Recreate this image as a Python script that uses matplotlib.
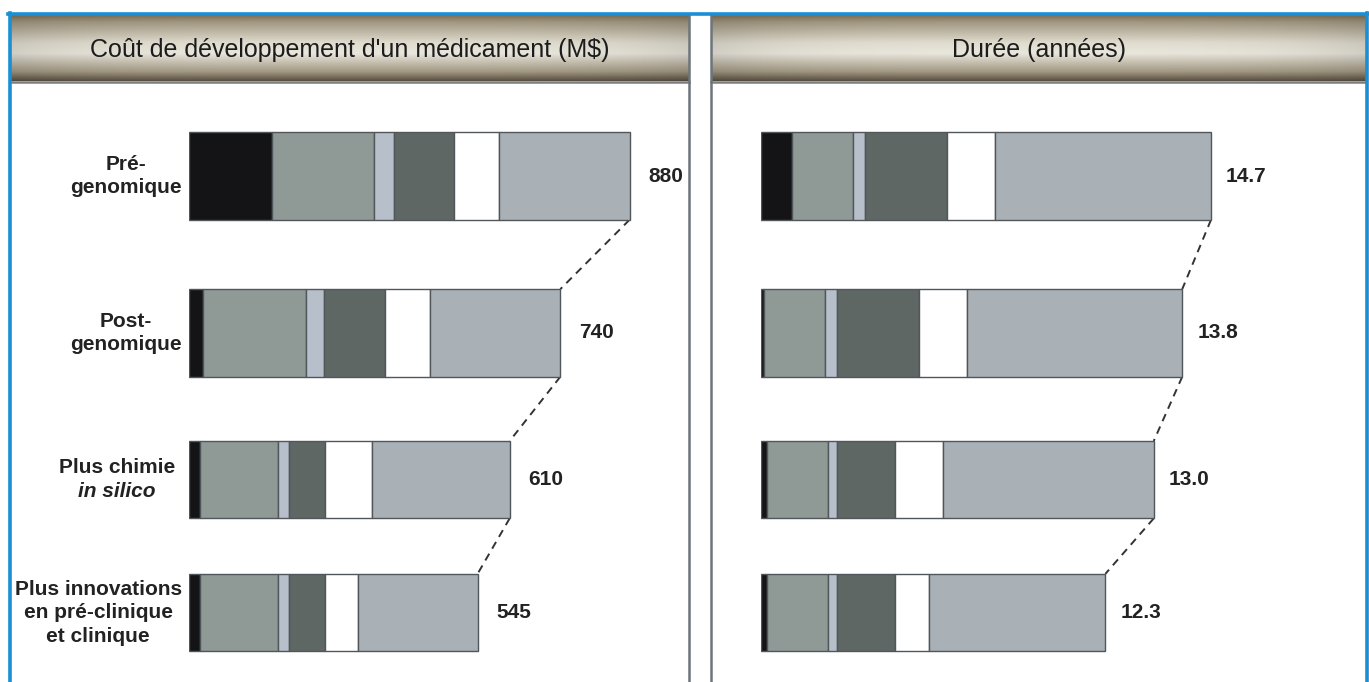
import matplotlib
matplotlib.use('Agg')
import matplotlib.pyplot as plt
import numpy as np
from matplotlib.colors import to_rgb

plt.rcParams['font.family'] = ['Liberation Sans', 'DejaVu Sans']

# --- donnees ---
categories = ['Pré-\ngenomique', 'Post-\ngenomique', 'Plus chimie',
              'Plus innovations\nen pré-clinique\net clinique']
italic_line = {2: 'in silico'}

titles = ["Coût de développement d'un médicament (M$)", 'Durée (années)']

cost_totals = ['880', '740', '610', '545']
years_totals = ['14.7', '13.8', '13.0', '12.3']

# segments par phase (lecture sur l'image)
cost_segments = [
    [165, 205, 39, 120, 90, 260],
    [29, 204, 37, 122, 89, 260],
    [22, 156, 21, 73, 94, 274],
    [22, 156, 21, 73, 66, 238],
]
years_segments = [
    [1.02, 1.99, 0.38, 2.70, 1.57, 7.04],
    [0.10, 2.00, 0.38, 2.69, 1.57, 7.02],
    [0.21, 1.97, 0.31, 1.89, 1.55, 6.90],
    [0.21, 1.97, 0.31, 1.89, 1.10, 5.77],
]

phase_colors = ['#141417', '#8f9996', '#b7bfca', '#5f6764', '#ffffff', '#a9b1b7']

# --- mise en page (pixels de l'image 1369x682) ---
W, H = 1369, 682
row_y = [0.0, 1.075, 2.08, 2.99]
bar_h = [0.60, 0.60, 0.53, 0.53]
blue = '#1a8fd6'
edge = '#50565a'

fig = plt.figure(figsize=(W / 100, H / 100), dpi=100)
fig.patch.set_facecolor('white')

bg = fig.add_axes([0, 0, 1, 1])
bg.set_xlim(0, W)
bg.set_ylim(H, 0)
bg.axis('off')

# bandeaux de titre en degrade
stops = [0, 0.1, 0.42, 0.58, 0.86, 1.0]
cols = np.array([to_rgb(c) for c in ['#7c6f57', '#a19781', '#e0dccf', '#e9e6dc', '#a39984', '#5a5141']])
t = np.linspace(0, 1, 80)
vert = np.stack([np.interp(t, stops, cols[:, k]) for k in range(3)], axis=1)
u = np.linspace(0, 1, 300)
horiz = 1 - 0.10 * (np.abs(u - 0.5) * 2) ** 4
grad = vert[:, None, :] * horiz[None, :, None]

panels = [(11, 689), (711, 1366)]
for (x0, x1), title in zip(panels, titles):
    bg.imshow(grad, extent=[x0, x1, 81, 15], aspect='auto', zorder=1)
    bg.plot([x0, x1], [82, 82], color='#7b7d84', lw=1.8, zorder=2)
    bg.text((x0 + x1) / 2, 50, title, ha='center', va='center',
            fontsize=18, color='#1c1c1c', zorder=3)

# bords
bg.plot([689, 689], [15, H], color='#6d747a', lw=1.8)
bg.plot([711, 711], [15, H], color='#6d747a', lw=1.8)
bg.plot([8, W], [14, 14], color=blue, lw=2.6)
bg.plot([9.5, 9.5], [13, H], color=blue, lw=2.6)
bg.plot([1367, 1367], [13, H], color=blue, lw=2.6)

# axes des barres
y_top, y_bot = 82, H
row_px = 146.0
row0_px = 176.0
ylim = ((y_bot - row0_px) / row_px, (y_top - row0_px) / row_px)


def panel(x_start, x_end, px_per_unit, segments, totals, label_off):
    width_px = x_end - x_start
    ax = fig.add_axes([x_start / W, 0, width_px / W, (y_bot - y_top) / H])
    ax.set_xlim(0, width_px / px_per_unit)
    ax.set_ylim(*ylim)
    ax.axis('off')
    segs = np.array(segments)
    lefts = np.zeros(len(segs))
    for j, c in enumerate(phase_colors):
        ax.barh(row_y, segs[:, j], left=lefts, height=bar_h, color=c,
                edgecolor=edge, linewidth=1.0, zorder=3)
        lefts = lefts + segs[:, j]
    for i, txt in enumerate(totals):
        ax.annotate(txt, xy=(lefts[i], row_y[i]), xytext=(label_off * 0.72, 0),
                    textcoords='offset points', ha='left', va='center',
                    fontsize=15, fontweight='bold', color='#222222')
    for i in range(len(totals) - 1):
        ax.plot([lefts[i], lefts[i + 1]],
                [row_y[i] + bar_h[i] / 2, row_y[i + 1] - bar_h[i + 1] / 2],
                color='#333333', lw=1.4, ls=(0, (4, 3)), zorder=2)
    return ax


axL = panel(188.8, 689, 440.7 / 879, cost_segments, cost_totals, 19)
axR = panel(761, 1366, 450 / 14.7, years_segments, years_totals, 15)

# libelles des categories
for i, lab in enumerate(categories):
    if i in italic_line:
        t1 = axL.annotate(lab, xy=(0, row_y[i]), xytext=(-14 * 0.72, 3 * 0.72),
                          textcoords='offset points', ha='right', va='bottom',
                          fontsize=15, fontweight='bold', color='#222222')
        axL.annotate(italic_line[i], xy=(0.5, 0), xycoords=t1, xytext=(0, -4),
                     textcoords='offset points', ha='center', va='top',
                     fontsize=15, fontweight='bold', fontstyle='italic', color='#222222')
    else:
        axL.annotate(lab, xy=(0, row_y[i]), xytext=(-7 * 0.72, 0),
                     textcoords='offset points', ha='right', va='center',
                     multialignment='center', linespacing=1.3,
                     fontsize=15, fontweight='bold', color='#222222')

fig.savefig('out.png', dpi=100, facecolor='white')
